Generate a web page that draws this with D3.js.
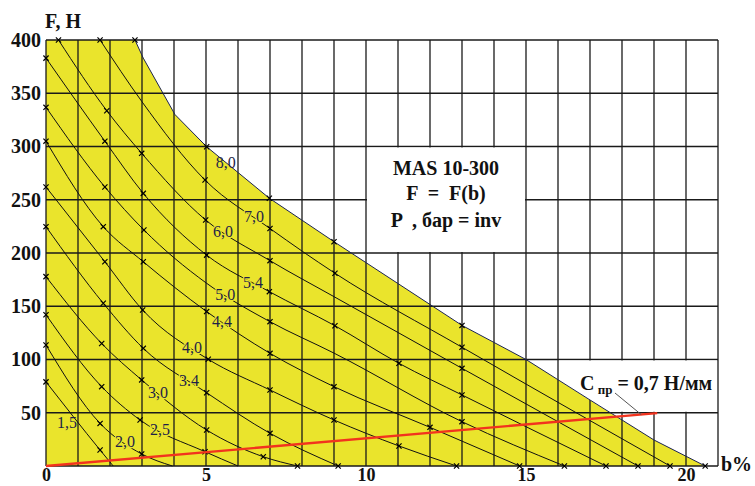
<!DOCTYPE html>
<html>
<head>
<meta charset="utf-8">
<script src="https://cdn.jsdelivr.net/npm/d3@7"></script>
<style>
  body { margin: 0; background: #fff; }
  svg { display: block; font-family: "Liberation Serif", "Times New Roman", serif; }
</style>
</head>
<body>
<div class="chart"></div>
<script>
// chart size
var width = 755;
var height = 486;

// pressure curves, p in bar -> points [b %, F N, marker 1/0]
const pressureLabels = ["1,5", "2,0", "2,5", "3,0", "3.4", "4,0", "4,4", "5,0", "5,4", "6,0", "7,0", "8,0"];
const curve15 = [[0, 79, 1], [1.69, 15, 1], [2.1, 0, 0]];
const curve20 = [[0, 113.6, 1], [1.69, 40, 1], [2.99, 11.3, 1], [3.95, 0, 0]];
const curve25 = [[0, 142, 1], [1.74, 74.5, 1], [2.94, 43.2, 1], [4.97, 13.4, 1], [6.0, 0, 0]];
const curve30 = [[0, 177.8, 1], [1.74, 115, 1], [2.99, 80.8, 1], [5.02, 33.8, 1], [6.79, 8.7, 1], [7.86, 0, 1]];
const curve34 = [[0, 224.7, 1], [1.79, 152.8, 1], [3.04, 110.5, 1], [5.02, 68.8, 1], [7.0, 30.7, 1], [9.13, 0, 1]];
const curve40 = [[0, 262, 1], [1.84, 191.8, 1], [3.02, 146.5, 1], [5.07, 100.2, 1], [7.0, 71.4, 1], [9.0, 43.2, 1], [11.03, 18.8, 1], [12.83, 0, 1]];
const curve44 = [[0, 305, 1], [1.79, 224.7, 1], [3.04, 191.8, 1], [5.02, 145, 1], [7.0, 105.8, 1], [9.0, 74.5, 1], [12.0, 36.3, 1], [14.8, 0, 1]];
const curve50 = [[0, 336.8, 1], [1.84, 262, 1], [3.06, 221.6, 1], [5.0, 172, 0], [7.0, 135.5, 1], [9.0, 106, 0], [13.0, 41.6, 1], [16.2, 0, 1]];
const curve54 = [[0, 383, 1], [1.84, 305, 1], [3.04, 256, 1], [5.02, 198, 1], [6.98, 163.7, 1], [9.03, 131.7, 1], [11.03, 96.4, 1], [13.0, 66.7, 1], [17.5, 0, 1]];
const curve60 = [[0.39, 400, 1], [1.9, 333.6, 1], [2.99, 293.6, 1], [4.99, 231, 1], [7.0, 192.8, 1], [9.0, 159, 0], [13.0, 91.7, 1], [18.5, 0, 1]];
const curve70 = [[1.69, 400, 1], [3.0, 342, 0], [4.97, 268.5, 1], [7.0, 223, 1], [9.03, 181, 1], [13.0, 111.5, 1], [19.5, 0, 1]];
// 8 bar curve is also the upper limit of the working area
const curve80 = [[2.78, 400, 1], [3.04, 383, 0], [4.03, 330, 0], [5.02, 299.8, 1], [6.98, 251.4, 1], [9.0, 210.6, 1], [13.0, 132, 1], [15.0, 100, 0], [17.0, 62, 0], [19.0, 24.4, 0], [20.6, 0, 1]];
const curves = [curve15, curve20, curve25, curve30, curve34, curve40, curve44, curve50, curve54, curve60, curve70, curve80];
// where along each curve the p label sits (b %)
const labelB = [1.0, 2.47, 3.56, 3.5, 4.47, 4.56, 5.5, 5.6, 6.47, 5.53, 6.5, 5.62];

// spring line C = 0,7 N/mm
const springB = [0, 19.1];
const springF = [0, 49.6];

// axis ticks
const xTicks = [0, 5, 10, 15, 20];
const yTicks = [50, 100, 150, 200, 250, 300, 350, 400];

const svg = d3.select(".chart")
  .append("svg")
  .attr("width", width)
  .attr("height", height);

var x = d3.scaleLinear().domain([0, 21]).range([46, 718]);
var y = d3.scaleLinear().domain([0, 400]).range([466, 40]);

var yellow = "#EAE42C";

// yellow working area under the 8 bar curve
var areaPts = [[0, 400]].concat(curve80);
svg.append("path")
  .datum(areaPts)
  .attr("fill", yellow)
  .attr("d", d3.area().x(d => x(d[0])).y0(y(0)).y1(d => y(d[1])));

// grid
var grid = svg.append("g").attr("stroke", "#1a1a1a").attr("stroke-width", 1.3);
grid.selectAll(".vl")
  .data(d3.range(0, 22))
  .enter().append("line")
  .attr("x1", d => x(d)).attr("x2", d => x(d))
  .attr("y1", y(0)).attr("y2", y(400));
grid.selectAll(".hl")
  .data(d3.range(0, 401, 50))
  .enter().append("line")
  .attr("x1", x(0)).attr("x2", x(21))
  .attr("y1", d => y(d)).attr("y2", d => y(d));

// white boxes for the notes (no grid inside)
svg.append("rect")
  .attr("x", x(10) + 1).attr("y", y(300) + 1)
  .attr("width", x(15) - x(10) - 2).attr("height", y(200) - y(300) - 2)
  .attr("fill", "#fff");

// box for the spring note, only the part above the 8 bar curve
var above = [[2.78, 400]].concat(curve80).concat([[21, 0]]);
svg.append("clipPath").attr("id", "aboveClip")
  .append("path")
  .datum(above)
  .attr("d", d3.area().x(d => x(d[0])).y0(y(400)).y1(d => y(d[1])));
svg.append("rect")
  .attr("clip-path", "url(#aboveClip)")
  .attr("x", x(16) + 1).attr("y", y(100) + 1)
  .attr("width", x(21) - x(16) - 2).attr("height", y(50) - y(100) - 2)
  .attr("fill", "#fff");

// pressure curves
var line = d3.line().x(d => x(d[0])).y(d => y(d[1])).curve(d3.curveMonotoneX);
svg.append("g")
  .selectAll("path")
  .data(curves)
  .enter().append("path")
  .attr("fill", "none")
  .attr("stroke", (d, i) => i == 11 ? "#1c2452" : "#111")
  .attr("stroke-width", 1)
  .attr("d", (d, i) => i == 11 ? d3.line().x(p => x(p[0])).y(p => y(p[1]))(d) : line(d));

// x markers
var marks = curves.flat().filter(d => d[2] == 1);
svg.append("g")
  .selectAll("path")
  .data(marks)
  .enter().append("path")
  .attr("stroke", "#000")
  .attr("stroke-width", 1.2)
  .attr("fill", "none")
  .attr("d", d => {
    var cx = x(d[0]), cy = y(d[1]), r = 2.6;
    return "M" + (cx - r) + "," + (cy - r) + "L" + (cx + r) + "," + (cy + r) +
           "M" + (cx + r) + "," + (cy - r) + "L" + (cx - r) + "," + (cy + r);
  });

// red spring line
svg.append("line")
  .attr("x1", x(springB[0])).attr("y1", y(springF[0]))
  .attr("x2", x(springB[1])).attr("y2", y(springF[1]))
  .attr("stroke", "#F2331E")
  .attr("stroke-width", 2.4);

// pressure labels
function fAt(pts, b) {
  for (var i = 1; i < pts.length; i++) {
    if (b <= pts[i][0]) {
      var t = (b - pts[i - 1][0]) / (pts[i][0] - pts[i - 1][0]);
      return pts[i - 1][1] + t * (pts[i][1] - pts[i - 1][1]);
    }
  }
  return pts[pts.length - 1][1];
}
svg.append("g")
  .selectAll("text")
  .data(pressureLabels)
  .enter().append("text")
  .attr("x", (d, i) => x(labelB[i]) + (i == 0 ? -11 : 0))
  .attr("y", (d, i) => y(fAt(curves[i], labelB[i])))
  .attr("dy", "0.35em")
  .attr("text-anchor", "middle")
  .attr("font-size", 16)
  .attr("fill", "#1e1f48")
  .attr("stroke", (d, i) => (i == 0 || i == 11) ? "none" : yellow)
  .attr("stroke-width", 2.5)
  .attr("paint-order", "stroke")
  .text(d => d);

// note box text
var note = svg.append("g")
  .attr("font-weight", "bold")
  .attr("font-size", 20)
  .attr("text-anchor", "middle")
  .attr("fill", "#111");
note.append("text").attr("x", x(12.5)).attr("y", 175).text("MAS 10-300");
note.append("text").attr("x", x(12.5)).attr("y", 200).attr("xml:space", "preserve").text("F  =  F(b)");
note.append("text").attr("x", x(12.5)).attr("y", 227).attr("xml:space", "preserve").text("P  , бар = inv");

// spring note with leader
svg.append("line")
  .attr("x1", 615).attr("y1", 393)
  .attr("x2", x(18.6)).attr("y2", y(18.6 * springF[1] / springB[1]))
  .attr("stroke", "#555")
  .attr("stroke-width", 1);
var cTxt = svg.append("text")
  .attr("x", 580).attr("y", 390)
  .attr("font-weight", "bold")
  .attr("font-size", 20)
  .attr("fill", "#111");
cTxt.append("tspan").text("C");
cTxt.append("tspan").attr("font-size", 13).attr("dy", 4).text(" пр");
cTxt.append("tspan").attr("dy", -4).text(" = 0,7 Н/мм");

// axes
var yAxis = svg.append("g")
  .attr("transform", "translate(" + x(0) + ",0)")
  .call(d3.axisLeft(y).tickValues(yTicks).tickSize(0).tickPadding(5));
yAxis.select(".domain").remove();
yAxis.selectAll("text")
  .attr("font-family", "Liberation Serif, serif")
  .attr("font-weight", "bold")
  .attr("font-size", 20)
  .attr("fill", "#111");

var xAxis = svg.append("g")
  .attr("transform", "translate(0," + y(0) + ")")
  .call(d3.axisBottom(x).tickValues(xTicks).tickSize(0).tickPadding(2));
xAxis.select(".domain").remove();
xAxis.selectAll("text")
  .attr("font-family", "Liberation Serif, serif")
  .attr("font-weight", "bold")
  .attr("font-size", 18)
  .attr("fill", "#111");

svg.append("text")
  .attr("x", 45).attr("y", 28)
  .attr("font-weight", "bold").attr("font-size", 20).attr("fill", "#111")
  .text("F, H");
svg.append("text")
  .attr("x", 721).attr("y", 471)
  .attr("font-weight", "bold").attr("font-size", 20).attr("fill", "#111")
  .text("b%");
</script>
</body>
</html>
